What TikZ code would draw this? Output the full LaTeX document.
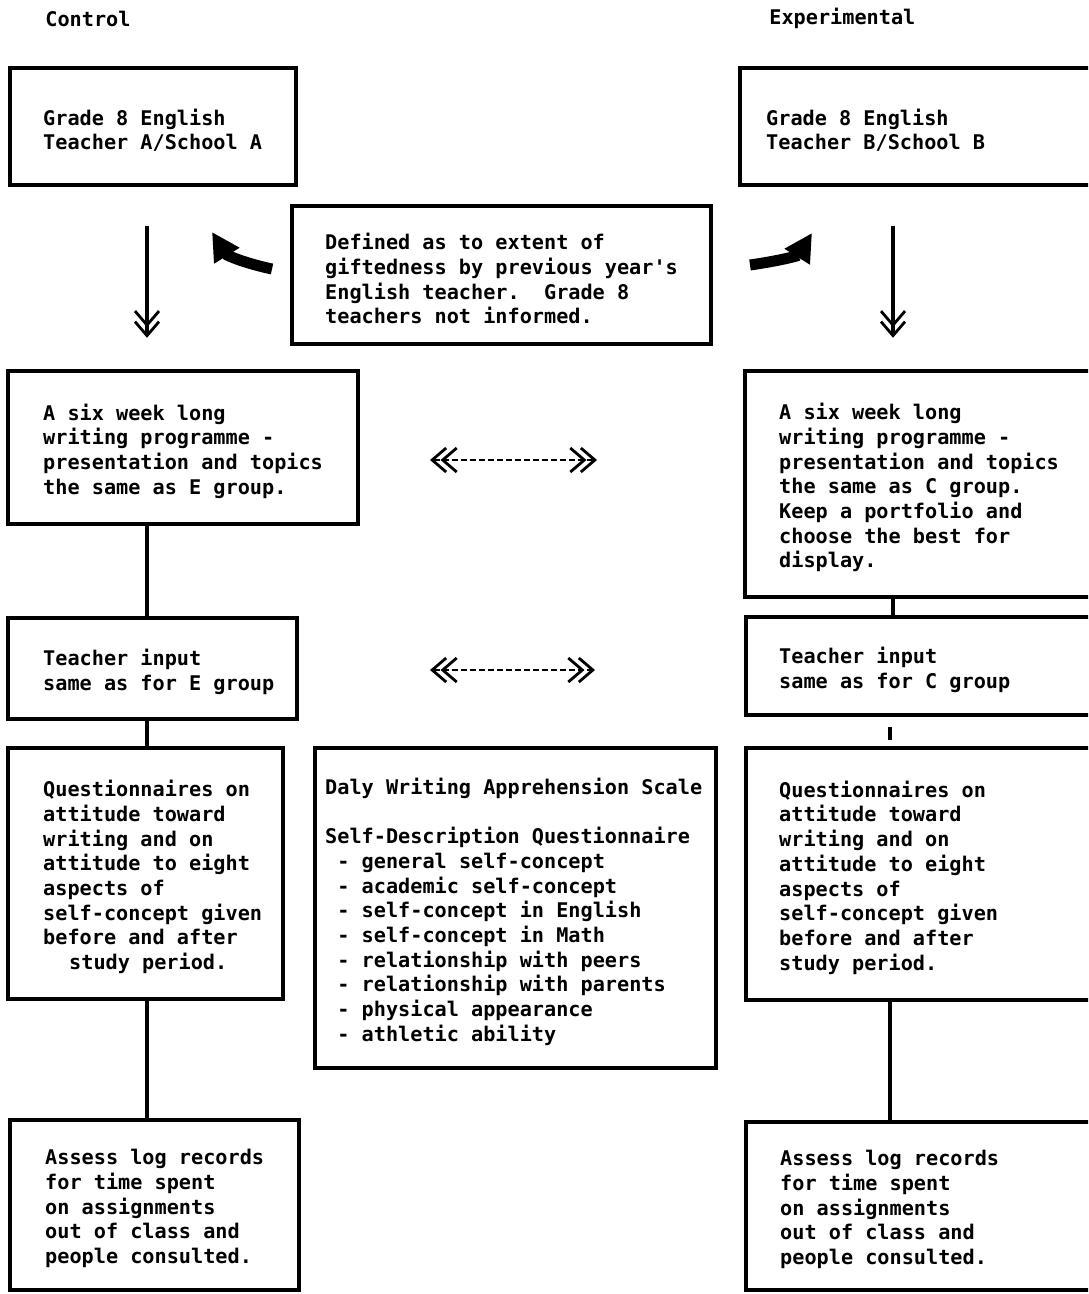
\documentclass[tikz,border=0pt]{standalone}
\usepackage{fontspec}
\setmonofont{DejaVu Sans Mono}
\usetikzlibrary{arrows.meta,positioning}
\begin{document}
\begin{tikzpicture}[x=0.5pt,y=-0.5pt,
	box/.style={draw,line width=2.2pt,inner sep=0pt},
	txt/.style={anchor=west,align=left,inner sep=0pt,xshift=1pt,yshift=-1.8pt,font=\ttfamily\bfseries\fontsize{10.1}{12.35}\selectfont},
	lnk/.style={line width=2.2pt},
	Chev/.tip={Straight Barb[length=7pt,width=12pt,line width=1.4pt,sep=-3.5pt]Straight Barb[length=7pt,width=12pt,line width=1.4pt]},
	darr/.style={line width=2pt,-{Chev}},
	harr/.style={line width=1.2pt,dash pattern=on 3pt off 1.5pt,{Chev}-{Chev}},
	bent/.style={line width=5.5pt,-{Triangle[length=14pt,width=14pt]}}]
	\useasboundingbox (0,0) rectangle (1088,1294);
	\clip (0,0) rectangle (1088,1294);
	\coordinate (colA) at (147,0);
	\coordinate (colB) at (893,0);
	\coordinate (colC) at (890,0);
	
	\node[txt] (ctl) at (43,15) {Control};
	\node[txt] (exp) at (767,15) {Experimental};
	
	\node[box,minimum width=143pt,minimum height=58.5pt] (a1) at (153,126.5) {};
	\node[txt] (a1t) at ([xshift=16.5pt]a1.west) {Grade 8 English\\Teacher A/School A};
	\node[box,minimum width=195pt,minimum height=58.5pt] (b1) at (935,126.5) {};
	\node[txt] (b1t) at ([xshift=13pt]b1.west) {Grade 8 English\\Teacher B/School B};
	
	\node[box,minimum width=209.5pt,minimum height=69pt] (def) at (501.5,275) {};
	\node[txt] (deft) at ([xshift=16.5pt]def.west) {Defined as to extent of\\giftedness by previous year's\\English teacher.\ \ Grade 8\\teachers not informed.};
	
	\node[box,minimum width=175pt,minimum height=76.5pt] (a2) at (183,447.5) {};
	\node[txt] (a2t) at ([xshift=17.5pt]a2.west) {A six week long\\writing programme -\\presentation and topics\\the same as E group.};
	\node[box,minimum width=192.5pt,minimum height=113pt] (b2) at (937.5,484) {};
	\node[txt] (b2t) at ([xshift=17pt]b2.west) {A six week long\\writing programme -\\presentation and topics\\the same as C group.\\Keep a portfolio and\\choose the best for\\display.};
	
	\node[box,minimum width=144.5pt,minimum height=50.5pt] (a3) at (152.5,668.5) {};
	\node[txt] (a3t) at ([xshift=17.5pt]a3.west) {Teacher input\\same as for E group};
	\node[box,minimum width=192pt,minimum height=49pt] (b3) at (938,666) {};
	\node[txt] (b3t) at ([xshift=16.5pt]b3.west) {Teacher input\\same as for C group};
	
	\node[box,minimum width=137.5pt,minimum height=125.5pt] (a4) at (145.5,873.5) {};
	\node[txt] (a4t) at ([xshift=17.5pt]a4.west) {Questionnaires on\\attitude toward\\writing and on\\attitude to eight\\aspects of\\self-concept given\\before and after\\\hspace*{13pt}study period.};
	\node[box,minimum width=200.5pt,minimum height=160pt] (dws) at (515.5,908) {};
	\node[txt] (dwst) at ([xshift=5pt]dws.west) {Daly Writing Apprehension Scale\\[12.35pt]Self-Description Questionnaire\\\hspace*{6.1pt}- general self-concept\\\hspace*{6.1pt}- academic self-concept\\\hspace*{6.1pt}- self-concept in English\\\hspace*{6.1pt}- self-concept in Math\\\hspace*{6.1pt}- relationship with peers\\\hspace*{6.1pt}- relationship with parents\\\hspace*{6.1pt}- physical appearance\\\hspace*{6.1pt}- athletic ability};
	\node[box,minimum width=192pt,minimum height=126pt] (b4) at (938,874) {};
	\node[txt] (b4t) at ([xshift=16.5pt]b4.west) {Questionnaires on\\attitude toward\\writing and on\\attitude to eight\\aspects of\\self-concept given\\before and after\\study period.};
	
	\node[box,minimum width=144.5pt,minimum height=85pt] (a5) at (154.5,1205) {};
	\node[txt] (a5t) at ([xshift=17.5pt]a5.west) {Assess log records\\for time spent\\on assignments\\out of class and\\people consulted.};
	\node[box,minimum width=192pt,minimum height=84pt] (b5) at (938,1206) {};
	\node[txt] (b5t) at ([xshift=17pt]b5.west) {Assess log records\\for time spent\\on assignments\\out of class and\\people consulted.};
	
	\draw[darr,shorten <=19.5pt,shorten >=15.5pt] (a1.south -| colA) -- (a2.north -| colA);
	\draw[darr,shorten <=19.5pt,shorten >=15.5pt] (b1.south -| colB) -- (b2.north -| colB);
	\coordinate (cl1) at (272,269);
	\coordinate (cl2) at (212,232);
	\coordinate (cr1) at (750,265);
	\coordinate (cr2) at (812,233);
	\draw[bent] (cl1) to[out=168,in=-58] (cl2);
	\draw[bent] (cr1) to[out=8,in=-122] (cr2);
	
	\coordinate (h1l) at (430,460);
	\coordinate (h1r) at (597,460);
	\coordinate (h2l) at (430,670);
	\coordinate (h2r) at (595,670);
	\draw[harr] (h1l) -- (h1r);
	\draw[harr] (h2l) -- (h2r);
	
	\draw[lnk] (a2.south -| colA) -- (a3.north -| colA);
	\draw[lnk] (a3.south -| colA) -- (a4.north -| colA);
	\draw[lnk] (a4.south -| colA) -- (a5.north -| colA);
	\draw[lnk] (b2.south -| colB) -- (b3.north -| colB);
	\draw[lnk,shorten <=5pt,shorten >=3pt] (b3.south -| colC) -- (b4.north -| colC);
	\draw[lnk] (b4.south -| colC) -- (b5.north -| colC);
\end{tikzpicture}
\end{document}
